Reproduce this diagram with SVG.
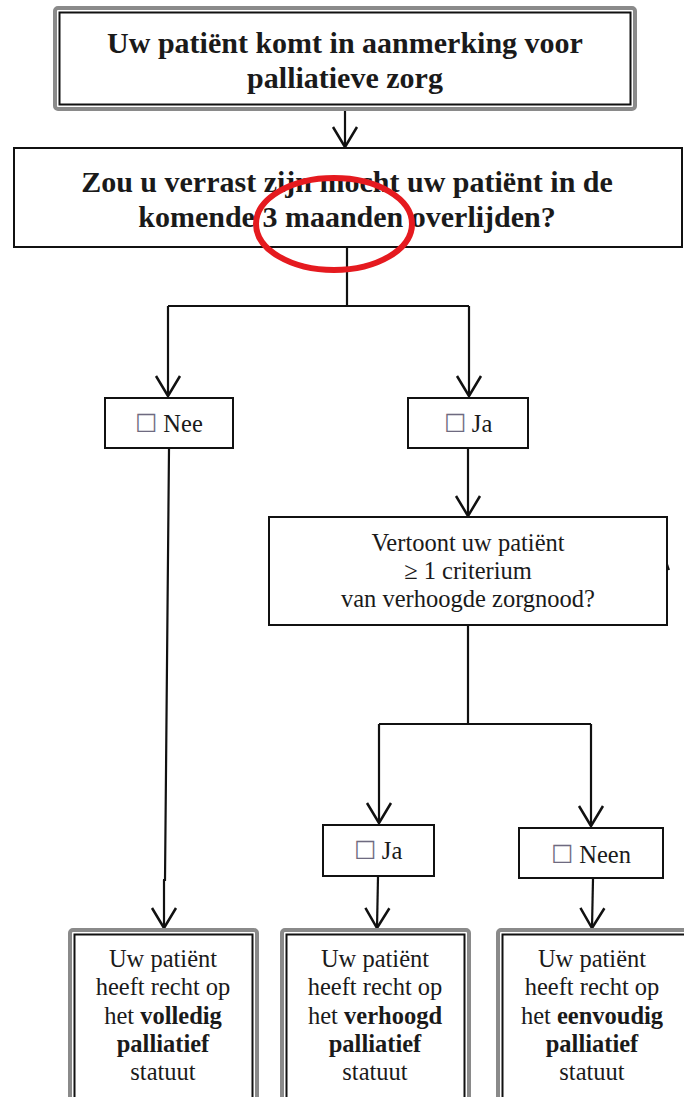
<svg xmlns="http://www.w3.org/2000/svg" width="684" height="1097" viewBox="0 0 684 1097">
  <style>
    .frame { fill: #ffffff; stroke: #111111; stroke-width: 2; }
    .outer { fill: #ffffff; stroke: #8a8a8a; stroke-width: 4; }
    .inner { fill: none; stroke: #111111; stroke-width: 2; }
    .conn { fill: none; stroke: #111111; stroke-width: 2.2; }
    text { font-family: 'Liberation Serif', 'Times New Roman', serif; fill: #1a1a1a; text-anchor: middle; }
    .big { font-size: 30px; font-weight: bold; }
    .mid { font-size: 24.5px; }
    .chk { fill: #6e6a80; font-size: 25px; }
    .b { font-weight: bold; }
  </style>
  <defs>
    <marker id="arrow" markerUnits="userSpaceOnUse" viewBox="-24 -15 27 30" refX="0" refY="0" markerWidth="27" markerHeight="30" orient="auto">
      <path d="M-20,-12 L0,0 L-20,12" fill="none" stroke="#111111" stroke-width="2.5"/>
    </marker>
  </defs>

  <rect width="684" height="1097" fill="#ffffff"/>

  <!-- connectors -->
  <g id="connectors">
    <line class="conn" x1="345" y1="110" x2="345" y2="147" marker-end="url(#arrow)"/>
    <polyline class="conn" points="347,248 347,306"/>
    <polyline class="conn" points="168,306 469,306"/>
    <line class="conn" x1="168" y1="306" x2="168" y2="396" marker-end="url(#arrow)"/>
    <line class="conn" x1="469" y1="306" x2="469" y2="396" marker-end="url(#arrow)"/>
    <polyline class="conn" points="169,449 165,880 163,880"/>
    <line class="conn" x1="164" y1="880" x2="164" y2="928" marker-end="url(#arrow)"/>
    <line class="conn" x1="468" y1="449" x2="468" y2="516" marker-end="url(#arrow)"/>
    <polyline class="conn" points="468,626 468,724"/>
    <polyline class="conn" points="379,724 591,724"/>
    <line class="conn" x1="379" y1="724" x2="379" y2="823" marker-end="url(#arrow)"/>
    <line class="conn" x1="591" y1="724" x2="591" y2="826" marker-end="url(#arrow)"/>
    <line class="conn" x1="378" y1="877" x2="377" y2="928" marker-end="url(#arrow)"/>
    <line class="conn" x1="593" y1="879" x2="592" y2="928" marker-end="url(#arrow)"/>
  </g>

  <!-- start -->
  <g id="start">
    <rect class="outer" x="55" y="8" width="580" height="101" rx="3"/>
    <rect class="inner" x="59.5" y="12.5" width="571" height="92"/>
    <text class="big" x="345" y="53">Uw patiënt komt in aanmerking voor</text>
    <text class="big" x="345" y="88">palliatieve zorg</text>
  </g>

  <!-- surprise question -->
  <g id="question">
    <rect class="frame" x="14" y="148" width="668" height="99"/>
    <text class="big" x="347" y="192">Zou u verrast zijn mocht uw patiënt in de</text>
    <text class="big" x="347" y="227">komende 3 maanden overlijden?</text>
    <ellipse cx="334" cy="224" rx="78" ry="46" fill="none" stroke="#e51a1f" stroke-width="6"/>
  </g>

  <!-- answer: no -->
  <g id="nee">
    <rect class="frame" x="105" y="398" width="128" height="50"/>
    <text class="mid" x="169" y="432"><tspan class="chk">☐</tspan> Nee</text>
  </g>

  <!-- answer: yes -->
  <g id="ja">
    <rect class="frame" x="408" y="398" width="120" height="50"/>
    <text class="mid" x="468" y="432"><tspan class="chk">☐</tspan> Ja</text>
  </g>

  <!-- care need question -->
  <g id="criterium">
    <rect class="frame" x="269" y="517" width="398" height="108"/>
    <line x1="667" y1="564" x2="669" y2="570" stroke="#111111" stroke-width="2"/>
    <text class="mid" x="468" y="551">Vertoont uw patiënt</text>
    <text class="mid" x="468" y="579">≥ 1 criterium</text>
    <text class="mid" x="468" y="607">van verhoogde zorgnood?</text>
  </g>

  <!-- criterium: yes -->
  <g id="ja2">
    <rect class="frame" x="323" y="825" width="111" height="51"/>
    <text class="mid" x="378" y="859"><tspan class="chk">☐</tspan> Ja</text>
  </g>

  <!-- criterium: no -->
  <g id="neen">
    <rect class="frame" x="519" y="828" width="144" height="50"/>
    <text class="mid" x="591" y="863"><tspan class="chk">☐</tspan> Neen</text>
  </g>

  <!-- outcome: full status -->
  <g id="volledig">
    <rect class="outer" x="70" y="930" width="187" height="170" rx="3"/>
    <rect class="inner" x="74.5" y="934.5" width="178" height="170"/>
    <text class="mid" x="163" y="967">Uw patiënt</text>
    <text class="mid" x="163" y="995">heeft recht op</text>
    <text class="mid" x="163" y="1024">het <tspan class="b">volledig</tspan></text>
    <text class="mid b" x="163" y="1052">palliatief</text>
    <text class="mid" x="163" y="1080">statuut</text>
  </g>

  <!-- outcome: raised status -->
  <g id="verhoogd">
    <rect class="outer" x="282" y="930" width="187" height="170" rx="3"/>
    <rect class="inner" x="286.5" y="934.5" width="178" height="170"/>
    <text class="mid" x="375" y="967">Uw patiënt</text>
    <text class="mid" x="375" y="995">heeft recht op</text>
    <text class="mid" x="375" y="1024">het <tspan class="b">verhoogd</tspan></text>
    <text class="mid b" x="375" y="1052">palliatief</text>
    <text class="mid" x="375" y="1080">statuut</text>
  </g>

  <!-- outcome: simple status -->
  <g id="eenvoudig">
    <rect class="outer" x="498" y="930" width="190" height="170" rx="3"/>
    <rect class="inner" x="502.5" y="934.5" width="190" height="170"/>
    <text class="mid" x="592" y="967">Uw patiënt</text>
    <text class="mid" x="592" y="995">heeft recht op</text>
    <text class="mid" x="592" y="1024">het <tspan class="b">eenvoudig</tspan></text>
    <text class="mid b" x="592" y="1052">palliatief</text>
    <text class="mid" x="592" y="1080">statuut</text>
  </g>
</svg>
